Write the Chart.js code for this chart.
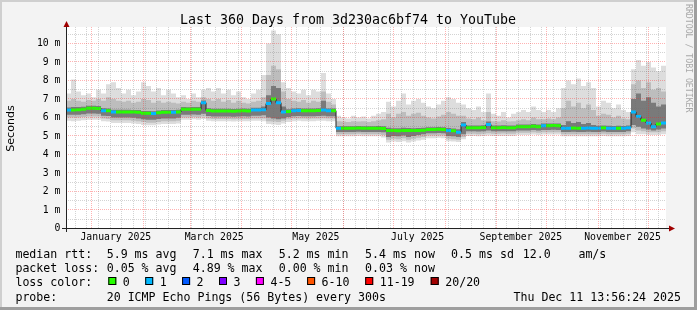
<!DOCTYPE html>
<html>
<head>
<meta charset="utf-8">
<script src="https://cdn.jsdelivr.net/npm/chart.js@4.4.1/dist/chart.umd.min.js"></script>
<style>
  html, body { margin: 0; padding: 0; background: #f3f3f3; }
  canvas { display: block; }
</style>
</head>
<body>
<canvas id="myChart" width="697" height="310"></canvas>
<script>
// graph window: 360 days ending Thu Dec 11 13:56:24 2025, one bin = 3 days
const startTime = new Date(2024, 11, 16, 13, 56, 24);
const spanDays = 360;
const binDays = 3;

// median rtt per bin (ms)
const median = [
  6.41, 6.41, 6.42, 6.45, 6.5, 6.5, 6.49, 6.37, 6.36, 6.3,
  6.3, 6.3, 6.3, 6.3, 6.28, 6.23, 6.23, 6.22, 6.26, 6.28,
  6.28, 6.28, 6.3, 6.44, 6.44, 6.45, 6.44, 6.8, 6.38, 6.35,
  6.35, 6.35, 6.35, 6.34, 6.35, 6.36, 6.35, 6.4, 6.4, 6.42,
  6.75, 7.0, 6.8, 6.3, 6.32, 6.37, 6.38, 6.37, 6.36, 6.37,
  6.38, 6.4, 6.37, 6.37, 5.42, 5.42, 5.42, 5.42, 5.43, 5.42,
  5.42, 5.42, 5.42, 5.4, 5.3, 5.29, 5.28, 5.29, 5.3, 5.29,
  5.3, 5.31, 5.35, 5.35, 5.36, 5.35, 5.3, 5.28, 5.2, 5.6,
  5.45, 5.45, 5.44, 5.46, 5.62, 5.45, 5.45, 5.46, 5.45, 5.45,
  5.5, 5.5, 5.5, 5.52, 5.5, 5.55, 5.55, 5.56, 5.55, 5.42,
  5.42, 5.43, 5.42, 5.42, 5.43, 5.42, 5.42, 5.44, 5.42, 5.42,
  5.42, 5.42, 5.45, 6.3, 6.05, 5.85, 5.7, 5.5, 5.65, 5.7
];

// lost pings per bin (index into lossColors)
const loss = [
  1, 0, 0, 0, 0, 0, 0, 1, 0, 1,
  0, 0, 0, 0, 0, 0, 0, 1, 0, 0,
  0, 1, 0, 0, 0, 0, 0, 1, 0, 0,
  0, 0, 0, 0, 0, 0, 0, 1, 1, 1,
  1, 0, 1, 1, 0, 1, 1, 0, 0, 0,
  0, 1, 1, 0, 1, 0, 0, 0, 0, 0,
  0, 0, 0, 0, 0, 0, 0, 0, 0, 0,
  0, 0, 0, 0, 0, 0, 1, 0, 1, 1,
  0, 0, 0, 0, 1, 0, 0, 0, 0, 0,
  0, 0, 0, 0, 0, 1, 0, 0, 0, 1,
  1, 0, 0, 1, 1, 1, 1, 0, 1, 1,
  0, 1, 1, 1, 1, 0, 1, 1, 0, 1
];

// smoke: slowest ping per bin
const smokeMax = [
  7.3, 8.05, 7.4, 7.2, 7.3, 7.1, 7.5, 7.3, 7.8, 7.9,
  7.6, 7.3, 7.5, 7.2, 7.4, 7.9, 7.7, 7.4, 7.6, 7.2,
  7.5, 7.3, 7.1, 7.2, 7.0, 7.3, 7.1, 7.5, 7.6, 7.4,
  7.6, 7.3, 7.5, 7.2, 7.4, 7.1, 7.0, 7.3, 7.5, 8.3,
  10.0, 10.7, 10.5, 7.9, 7.6, 7.4, 7.3, 7.5, 7.2, 7.5,
  7.4, 8.4, 7.3, 7.0, 6.1, 6.0, 5.95, 6.1, 6.0, 6.05,
  5.95, 6.1, 6.2, 6.3, 6.85, 6.6, 6.9, 7.3, 6.7, 6.9,
  7.0, 6.8, 6.6, 6.5, 6.7, 6.9, 7.1, 7.0, 6.8, 6.7,
  6.5, 6.4, 6.6, 6.3, 7.3, 6.2, 6.1, 6.3, 6.0, 6.2,
  6.3, 6.4, 6.3, 6.6, 6.4, 6.3, 6.4, 6.3, 6.5, 7.6,
  8.0, 7.8, 8.1, 7.7, 7.9, 7.6, 6.6, 6.9, 6.8, 6.5,
  6.7, 6.4, 6.3, 8.6, 9.1, 8.8, 9.0, 8.7, 8.5, 8.8
];
// smoke: outer band upper edge
const smokeHi2 = [
  6.9, 7.0, 6.9, 6.85, 6.95, 6.9, 7.0, 6.9, 7.1, 7.0,
  6.9, 6.85, 6.9, 6.8, 6.85, 7.0, 6.95, 6.8, 6.9, 6.8,
  6.85, 6.8, 6.75, 6.85, 6.8, 6.9, 6.85, 7.1, 7.0, 6.9,
  7.0, 6.85, 6.95, 6.8, 6.9, 6.8, 6.75, 6.85, 6.9, 7.1,
  8.3, 8.8, 8.6, 7.4, 7.0, 6.9, 6.85, 6.95, 6.8, 6.9,
  6.85, 7.4, 6.85, 6.7, 5.8, 5.78, 5.75, 5.8, 5.78, 5.8,
  5.75, 5.8, 5.85, 5.9, 6.2, 6.0, 6.2, 6.3, 6.1, 6.2,
  6.25, 6.1, 6.0, 5.95, 6.05, 6.15, 6.3, 6.2, 6.1, 6.1,
  5.95, 5.9, 6.0, 5.85, 6.3, 5.8, 5.78, 5.85, 5.78, 5.8,
  5.85, 5.9, 5.85, 6.0, 5.9, 5.9, 5.95, 5.9, 6.0, 6.5,
  6.9, 6.6, 6.8, 6.5, 6.7, 6.4, 6.1, 6.2, 6.15, 6.0,
  6.1, 5.95, 5.9, 7.8, 8.0, 7.6, 7.9, 7.5, 7.6, 7.4
];
// smoke: inner band upper edge
const smokeHi3 = [
  6.54, 6.56, 6.56, 6.58, 6.63, 6.63, 6.62, 6.5, 6.48, 6.42,
  6.42, 6.42, 6.42, 6.41, 6.4, 6.35, 6.35, 6.34, 6.38, 6.4,
  6.4, 6.4, 6.42, 6.56, 6.55, 6.57, 6.56, 6.92, 6.5, 6.47,
  6.47, 6.47, 6.47, 6.46, 6.47, 6.48, 6.47, 6.52, 6.52, 6.6,
  7.2, 7.7, 7.6, 6.6, 6.45, 6.49, 6.5, 6.49, 6.48, 6.49,
  6.5, 6.9, 6.49, 6.49, 5.53, 5.53, 5.53, 5.53, 5.54, 5.53,
  5.53, 5.53, 5.54, 5.52, 5.44, 5.42, 5.42, 5.44, 5.43, 5.42,
  5.43, 5.44, 5.47, 5.47, 5.48, 5.47, 5.43, 5.41, 5.36, 5.75,
  5.57, 5.57, 5.56, 5.58, 5.78, 5.57, 5.57, 5.58, 5.57, 5.57,
  5.62, 5.62, 5.62, 5.65, 5.62, 5.67, 5.67, 5.68, 5.67, 5.6,
  5.8, 5.7, 5.75, 5.65, 5.7, 5.6, 5.55, 5.57, 5.55, 5.54,
  5.55, 5.54, 5.57, 7.0, 7.3, 6.9, 7.1, 6.8, 6.6, 6.7
];
// smoke: inner band lower edge
const smokeLo3 = [
  6.15, 6.15, 6.15, 6.18, 6.22, 6.22, 6.2, 6.1, 6.08, 6.0,
  6.0, 6.0, 6.0, 5.98, 5.95, 5.9, 5.88, 5.88, 5.92, 5.95,
  5.95, 5.95, 5.98, 6.15, 6.15, 6.16, 6.15, 6.2, 6.08, 6.05,
  6.05, 6.05, 6.05, 6.04, 6.05, 6.06, 6.05, 6.1, 6.1, 6.12,
  6.0, 5.95, 5.9, 5.95, 6.02, 6.07, 6.08, 6.07, 6.06, 6.07,
  6.08, 6.1, 6.07, 6.07, 5.22, 5.22, 5.22, 5.22, 5.23, 5.22,
  5.22, 5.22, 5.22, 5.2, 4.95, 5.0, 4.98, 5.02, 4.95, 5.0,
  5.05, 5.1, 5.15, 5.15, 5.16, 5.15, 5.0, 4.98, 4.95, 5.1,
  5.25, 5.25, 5.24, 5.26, 5.3, 5.25, 5.25, 5.26, 5.25, 5.25,
  5.3, 5.3, 5.3, 5.32, 5.3, 5.33, 5.33, 5.34, 5.33, 5.22,
  5.22, 5.23, 5.22, 5.22, 5.23, 5.22, 5.22, 5.24, 5.22, 5.22,
  5.22, 5.22, 5.25, 5.6, 5.5, 5.4, 5.35, 5.3, 5.35, 5.4
];
// smoke: outer band lower edge
const smokeLo2 = [
  6.0, 6.0, 6.0, 6.02, 6.05, 6.05, 6.05, 5.95, 5.92, 5.85,
  5.85, 5.85, 5.85, 5.82, 5.8, 5.75, 5.72, 5.72, 5.76, 5.8,
  5.8, 5.8, 5.82, 6.0, 6.0, 6.02, 6.0, 6.05, 5.95, 5.92,
  5.92, 5.92, 5.92, 5.9, 5.92, 5.92, 5.92, 5.95, 5.95, 5.95,
  5.8, 5.78, 5.75, 5.82, 5.9, 5.94, 5.95, 5.94, 5.93, 5.94,
  5.95, 5.96, 5.94, 5.94, 5.1, 5.1, 5.1, 5.1, 5.12, 5.1,
  5.1, 5.1, 5.1, 5.05, 4.8, 4.85, 4.82, 4.88, 4.8, 4.85,
  4.9, 4.95, 5.02, 5.02, 5.03, 5.02, 4.85, 4.82, 4.8, 4.95,
  5.12, 5.12, 5.1, 5.12, 5.15, 5.12, 5.12, 5.13, 5.12, 5.12,
  5.17, 5.17, 5.17, 5.2, 5.17, 5.2, 5.2, 5.2, 5.2, 5.1,
  5.1, 5.1, 5.1, 5.1, 5.1, 5.1, 5.1, 5.12, 5.1, 5.1,
  5.1, 5.1, 5.12, 5.4, 5.3, 5.25, 5.2, 5.2, 5.2, 5.25
];
// smoke: fastest ping per bin
const smokeMin = [
  5.82, 5.8, 5.82, 5.85, 5.88, 5.88, 5.88, 5.8, 5.78, 5.7,
  5.7, 5.7, 5.7, 5.68, 5.65, 5.6, 5.58, 5.58, 5.62, 5.65,
  5.65, 5.65, 5.68, 5.88, 5.88, 5.9, 5.88, 5.92, 5.82, 5.8,
  5.8, 5.8, 5.8, 5.78, 5.8, 5.8, 5.8, 5.82, 5.82, 5.8,
  5.65, 5.62, 5.6, 5.68, 5.76, 5.8, 5.82, 5.8, 5.8, 5.8,
  5.82, 5.82, 5.8, 5.8, 4.98, 4.98, 4.98, 4.98, 5.0, 4.98,
  4.98, 4.98, 4.98, 4.92, 4.65, 4.7, 4.68, 4.72, 4.65, 4.7,
  4.75, 4.8, 4.88, 4.88, 4.9, 4.88, 4.72, 4.7, 4.68, 4.82,
  5.0, 5.0, 4.98, 5.0, 5.02, 5.0, 5.0, 5.0, 5.0, 5.0,
  5.05, 5.05, 5.05, 5.08, 5.05, 5.08, 5.08, 5.08, 5.08, 4.98,
  4.98, 4.98, 4.98, 4.98, 4.98, 4.98, 4.98, 5.0, 4.98, 4.98,
  4.98, 4.98, 5.0, 5.2, 5.1, 5.1, 5.05, 5.05, 5.05, 5.1
];

const lossColors = ["#26ff00", "#00b8ff", "#0059ff", "#7e00ff", "#ff00ff", "#ff5500", "#ff0000", "#a10000"];
const lossLabels = ["0", "1", "2", "3", "4-5", "6-10", "11-19", "20/20"];

// tick labels
const monthStarts = [
  [2025, 0], [2025, 1], [2025, 2], [2025, 3], [2025, 4], [2025, 5],
  [2025, 6], [2025, 7], [2025, 8], [2025, 9], [2025, 10], [2025, 11]
];
const xLabelMonths = [[2025, 0], [2025, 2], [2025, 4], [2025, 6], [2025, 8], [2025, 10]];
const xLabels = ["January 2025", "March 2025", "May 2025", "July 2025", "September 2025", "November 2025"];
const yTicks = [0, 1, 2, 3, 4, 5, 6, 7, 8, 9, 10];
const yMinorTicks = [0.5, 1.5, 2.5, 3.5, 4.5, 5.5, 6.5, 7.5, 8.5, 9.5, 10.5];

const dayMs = 86400000;
const dayOf = (y, m, d) => (new Date(y, m, d) - startTime) / dayMs;
const monthTicks = monthStarts.map(([y, m]) => dayOf(y, m, 1));
const labelTicks = xLabelMonths.map(([y, m]) => dayOf(y, m, 1) + 14.5);
const weekTicks = [];
for (let d = dayOf(2024, 11, 22); d < spanDays; d += 7) weekTicks.push(d);

function steps(arr) {
  const out = arr.map((v, i) => ({ x: i * binDays, y: v }));
  out.push({ x: spanDays, y: arr[arr.length - 1] });
  return out;
}

const band = (data, fill, color) => ({
  data: steps(data),
  stepped: true,
  borderWidth: 0,
  borderColor: "rgba(0,0,0,0)",
  backgroundColor: color,
  pointRadius: 0,
  fill: fill,
});

const rrdFrame = {
  id: "rrdFrame",
  beforeDraw(chart) {
    const { ctx, chartArea: a } = chart;
    ctx.save();
    ctx.fillStyle = "#f3f3f3";
    ctx.fillRect(0, 0, 697, 310);
    ctx.fillStyle = "#cfcfcf";
    ctx.fillRect(0, 0, 697, 2);
    ctx.fillRect(0, 0, 2, 310);
    ctx.fillStyle = "#9e9e9e";
    ctx.fillRect(0, 307, 697, 3);
    ctx.fillRect(694, 0, 3, 310);
    ctx.fillStyle = "#ffffff";
    ctx.fillRect(a.left, a.top, a.right - a.left, a.bottom - a.top);
    ctx.restore();
  },
  afterDraw(chart) {
    const { ctx, chartArea: a } = chart;
    ctx.save();
    // axes with arrows
    ctx.strokeStyle = "#222";
    ctx.lineWidth = 1;
    ctx.beginPath();
    ctx.moveTo(62, a.bottom);
    ctx.lineTo(a.right + 3, a.bottom);
    ctx.moveTo(a.left + 0.5, a.bottom + 3.5);
    ctx.lineTo(a.left + 0.5, a.top - 1);
    ctx.stroke();
    ctx.fillStyle = "#a00000";
    ctx.beginPath();
    ctx.moveTo(a.right + 3, a.bottom - 3);
    ctx.lineTo(a.right + 3, a.bottom + 3);
    ctx.lineTo(a.right + 9, a.bottom);
    ctx.closePath();
    ctx.fill();
    ctx.beginPath();
    ctx.moveTo(a.left - 2.5, a.top);
    ctx.lineTo(a.left + 3.5, a.top);
    ctx.lineTo(a.left + 0.5, a.top - 6);
    ctx.closePath();
    ctx.fill();

    // title
    ctx.fillStyle = "#000";
    ctx.textAlign = "center";
    ctx.textBaseline = "alphabetic";
    ctx.font = "13.3px 'DejaVu Sans Mono'";
    ctx.fillText("Last 360 Days from 3d230ac6bf74 to YouTube", 348, 24);

    // y axis title
    ctx.save();
    ctx.translate(11.5, 128.5);
    ctx.rotate(-Math.PI / 2);
    ctx.font = "11.1px 'DejaVu Sans'";
    ctx.textBaseline = "middle";
    ctx.fillText("Seconds", 0, 0);
    ctx.restore();

    // watermark
    ctx.save();
    ctx.translate(685.5, 4);
    ctx.rotate(Math.PI / 2);
    ctx.font = "8.2px 'DejaVu Sans Mono'";
    ctx.fillStyle = "#a8a8a8";
    ctx.textAlign = "left";
    ctx.textBaseline = "alphabetic";
    ctx.fillText("RRDTOOL / TOBI OETIKER", 0, 0);
    ctx.restore();

    // legend
    ctx.font = "11.6px 'DejaVu Sans Mono'";
    ctx.textAlign = "left";
    ctx.fillStyle = "#000";
    const line = (y, parts) => parts.forEach(([t, x]) => ctx.fillText(t, x - 0.6, y));
    line(258.3, [["median rtt:", 16], ["5.9 ms avg", 107.3], ["7.1 ms max", 193.3], ["5.2 ms min", 279.3],
      ["5.4 ms now", 365.7], ["0.5 ms sd", 451.7], ["12.0", 523.3], ["am/s", 579]]);
    line(272.3, [["packet loss:", 16], ["0.05 % avg", 107.3], ["4.89 % max", 193.3], ["0.00 % min", 279.3],
      ["0.03 % now", 365.7]]);
    line(285.7, [["loss color:", 16]]);
    const boxX = [108.3, 145.2, 182.1, 219, 255.9, 307.1, 365.2, 430.7];
    lossLabels.forEach((lab, i) => {
      ctx.fillStyle = lossColors[i];
      ctx.fillRect(boxX[i], 277, 8, 8);
      ctx.strokeStyle = "#000";
      ctx.strokeRect(boxX[i] + 0.5, 277.5, 7, 7);
      ctx.fillStyle = "#000";
      ctx.fillText(lab, boxX[i] + 14.5, 285.7);
    });
    line(300.7, [["probe:", 16], ["20 ICMP Echo Pings (56 Bytes) every 300s", 107.3]]);
    ctx.textAlign = "right";
    ctx.fillText("Thu Dec 11 13:56:24 2025", 681, 300.7);
    ctx.restore();
  },
};

const tickFont = { family: "DejaVu Sans Mono", size: 9.8 };
const setTicks = (list) => (scale) => { scale.ticks = list.map((v) => ({ value: v })); };
const gridRed = "rgba(255,30,30,0.34)";
const gridGray = "rgba(110,110,110,0.3)";

const ctx = document.getElementById("myChart");
new Chart(ctx, {
  type: "line",
  data: {
    datasets: [
      {
        data: median.map((v, i) => ({ x: i * binDays + binDays / 2, y: v })),
        showLine: false,
        pointStyle: "line",
        pointRadius: 2.5,
        pointBorderWidth: 3,
        pointBorderColor: loss.map((l) => lossColors[l]),
        pointBackgroundColor: loss.map((l) => lossColors[l]),
      },
      {
        data: steps(median),
        stepped: true,
        borderWidth: 1,
        borderColor: "#202020",
        pointRadius: 0,
        fill: false,
      },
      band(smokeHi3, "+1", "#7a7a7a"),
      band(smokeLo3, false, "#7a7a7a"),
      band(smokeHi2, "+1", "#bdbdbd"),
      band(smokeLo2, false, "#bdbdbd"),
      band(smokeMax, "+1", "#dddddd"),
      band(smokeMin, false, "#dddddd"),
    ],
  },
  options: {
    responsive: false,
    animation: false,
    devicePixelRatio: 1,
    layout: { padding: { left: 0, right: 31, top: 27, bottom: 61.5 } },
    plugins: { legend: { display: false }, tooltip: { enabled: false }, title: { display: false } },
    scales: {
      x: {
        type: "linear", min: 0, max: spanDays, position: "bottom",
        afterBuildTicks: setTicks(labelTicks),
        afterFit: (s) => { s.height = 20; },
        ticks: { autoSkip: false, maxRotation: 0, padding: 3, font: tickFont, color: "#000",
          callback: (v, i) => xLabels[i] },
        grid: { display: false, drawTicks: false },
        border: { display: false },
      },
      xw: {
        type: "linear", min: 0, max: spanDays, position: "bottom",
        afterBuildTicks: setTicks(weekTicks),
        afterFit: (s) => { s.height = 0; },
        ticks: { display: false },
        grid: { color: gridGray, drawTicks: false, z: 1 },
        border: { display: false, dash: [1, 1] },
      },
      xm: {
        type: "linear", min: 0, max: spanDays, position: "bottom",
        afterBuildTicks: setTicks(monthTicks),
        afterFit: (s) => { s.height = 0; },
        ticks: { display: false },
        grid: { color: gridRed, drawTicks: false, z: 1 },
        border: { display: false, dash: [1, 1] },
      },
      y: {
        type: "linear", min: 0, max: 10.89, position: "left",
        afterBuildTicks: setTicks(yTicks),
        afterFit: (s) => { s.width = 66; },
        ticks: { padding: 5.5, font: tickFont, color: "#000",
          callback: (v) => (v === 0 ? "0" : v + " m") },
        grid: { color: gridRed, drawTicks: false, z: 1 },
        border: { display: false, dash: [1, 1] },
      },
      ym: {
        type: "linear", min: 0, max: 10.89, position: "left",
        afterBuildTicks: setTicks(yMinorTicks),
        afterFit: (s) => { s.width = 0; },
        ticks: { display: false },
        grid: { color: gridGray, drawTicks: false, z: 1 },
        border: { display: false, dash: [1, 1] },
      },
    },
  },
  plugins: [rrdFrame],
});
</script>
</body>
</html>
